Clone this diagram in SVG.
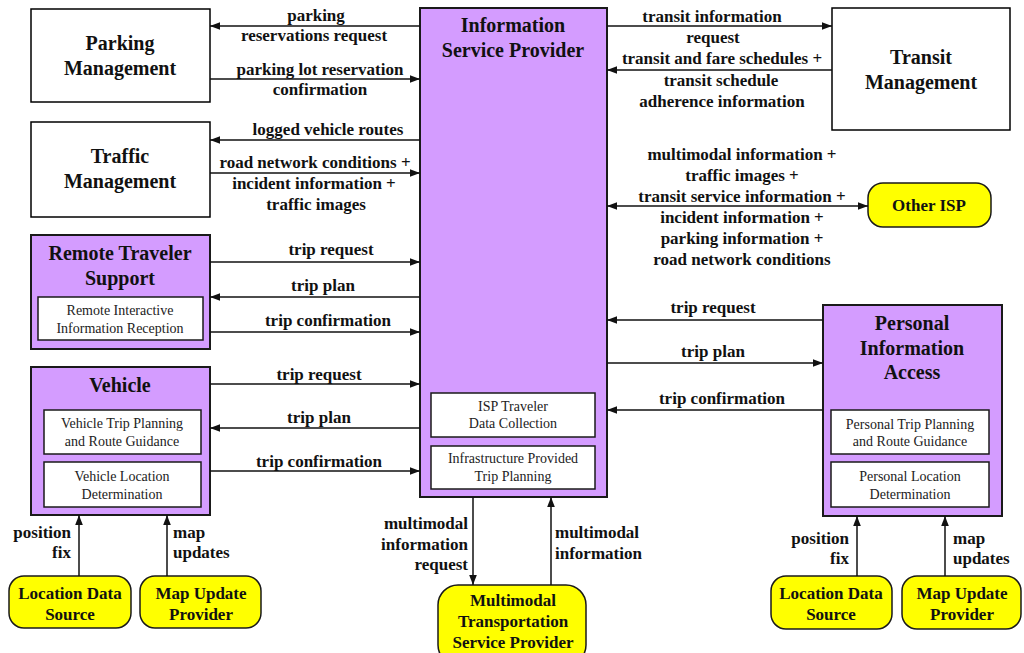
<svg xmlns="http://www.w3.org/2000/svg" width="1024" height="653" viewBox="0 0 1024 653">
  <defs>
    <style>
      .box { fill: #ffffff; stroke: #000000; stroke-width: 1.5; }
      .sys { fill: #D49CFF; stroke: #1a1a1a; stroke-width: 2; }
      .inner { fill: #ffffff; stroke: #1a1a1a; stroke-width: 1.5; }
      .term { fill: #FFFF00; stroke: #1a1a1a; stroke-width: 1.5; }
      .title { font-family: "Liberation Serif", "Times New Roman", serif; font-weight: bold; font-size: 20px; fill: #111; text-anchor: middle; }
      .tname { font-family: "Liberation Serif", "Times New Roman", serif; font-weight: bold; font-size: 17px; fill: #111; text-anchor: middle; }
      .sub { font-family: "Liberation Serif", "Times New Roman", serif; font-size: 14px; fill: #222; text-anchor: middle; }
      .lbl { font-family: "Liberation Serif", "Times New Roman", serif; font-weight: bold; font-size: 17px; fill: #111; text-anchor: middle; }
      .lbl-r { text-anchor: end; }
      .lbl-l { text-anchor: start; }
      .flow { fill: none; stroke: #111; stroke-width: 1.5; }
    </style>
    <marker id="arrow" markerUnits="userSpaceOnUse" markerWidth="10" markerHeight="10" viewBox="0 0 10 10" refX="10" refY="5" orient="auto-start-reverse">
      <path d="M0,1.2 L10,5 L0,8.8 Z" fill="#111"/>
    </marker>
  </defs>

  <!-- Parking Management -->
  <g id="parking-management">
    <rect class="box" x="31" y="9" width="179" height="93"/>
    <text class="title" x="120" y="50">Parking</text>
    <text class="title" x="120" y="75">Management</text>
  </g>

  <!-- Traffic Management -->
  <g id="traffic-management">
    <rect class="box" x="31" y="122" width="179" height="95"/>
    <text class="title" x="120" y="163">Traffic</text>
    <text class="title" x="120" y="188">Management</text>
  </g>

  <!-- Remote Traveler Support -->
  <g id="remote-traveler-support">
    <rect class="sys" x="31" y="235" width="179" height="114"/>
    <text class="title" x="120" y="260">Remote Traveler</text>
    <text class="title" x="120" y="285">Support</text>
    <rect class="inner" x="38" y="297" width="165" height="43"/>
    <text class="sub" x="120" y="315">Remote Interactive</text>
    <text class="sub" x="120" y="333">Information Reception</text>
  </g>

  <!-- Vehicle -->
  <g id="vehicle">
    <rect class="sys" x="31" y="367" width="179" height="148"/>
    <text class="title" x="120" y="392">Vehicle</text>
    <rect class="inner" x="44" y="410" width="157" height="44"/>
    <text class="sub" x="122" y="428">Vehicle Trip Planning</text>
    <text class="sub" x="122" y="446">and Route Guidance</text>
    <rect class="inner" x="44" y="462" width="157" height="45"/>
    <text class="sub" x="122" y="481">Vehicle Location</text>
    <text class="sub" x="122" y="499">Determination</text>
  </g>

  <!-- Information Service Provider -->
  <g id="information-service-provider">
    <rect class="sys" x="420" y="8" width="187" height="489"/>
    <text class="title" x="513" y="32">Information</text>
    <text class="title" x="513" y="57">Service Provider</text>
    <rect class="inner" x="431" y="393" width="164" height="44"/>
    <text class="sub" x="513" y="411">ISP Traveler</text>
    <text class="sub" x="513" y="428">Data Collection</text>
    <rect class="inner" x="431" y="446" width="164" height="43"/>
    <text class="sub" x="513" y="463">Infrastructure Provided</text>
    <text class="sub" x="513" y="481">Trip Planning</text>
  </g>

  <!-- Transit Management -->
  <g id="transit-management">
    <rect class="box" x="832" y="8" width="178" height="122"/>
    <text class="title" x="921" y="64">Transit</text>
    <text class="title" x="921" y="89">Management</text>
  </g>

  <!-- Other ISP -->
  <g id="other-isp">
    <rect class="term" x="868" y="183" width="123" height="44" rx="15" ry="15"/>
    <text class="tname" x="929" y="211">Other ISP</text>
  </g>

  <!-- Personal Information Access -->
  <g id="personal-information-access">
    <rect class="sys" x="823" y="305" width="179" height="211"/>
    <text class="title" x="912" y="330">Personal</text>
    <text class="title" x="912" y="355">Information</text>
    <text class="title" x="912" y="379">Access</text>
    <rect class="inner" x="831" y="410" width="158" height="44"/>
    <text class="sub" x="910" y="429">Personal Trip Planning</text>
    <text class="sub" x="910" y="446">and Route Guidance</text>
    <rect class="inner" x="831" y="462" width="158" height="45"/>
    <text class="sub" x="910" y="481">Personal Location</text>
    <text class="sub" x="910" y="499">Determination</text>
  </g>

  <!-- Terminators along the bottom -->
  <g id="location-data-source-vehicle">
    <rect class="term" x="9" y="576" width="122" height="52" rx="15" ry="15"/>
    <text class="tname" x="70" y="599">Location Data</text>
    <text class="tname" x="70" y="620">Source</text>
  </g>
  <g id="map-update-provider-vehicle">
    <rect class="term" x="140" y="576" width="121" height="52" rx="15" ry="15"/>
    <text class="tname" x="201" y="599">Map Update</text>
    <text class="tname" x="201" y="620">Provider</text>
  </g>
  <g id="multimodal-transportation-service-provider">
    <rect class="term" x="438" y="585" width="148" height="80" rx="20" ry="20"/>
    <text class="tname" x="513" y="606">Multimodal</text>
    <text class="tname" x="513" y="627">Transportation</text>
    <text class="tname" x="513" y="648">Service Provider</text>
  </g>
  <g id="location-data-source-personal">
    <rect class="term" x="771" y="576" width="121" height="53" rx="15" ry="15"/>
    <text class="tname" x="831" y="599">Location Data</text>
    <text class="tname" x="831" y="620">Source</text>
  </g>
  <g id="map-update-provider-personal">
    <rect class="term" x="902" y="576" width="119" height="53" rx="15" ry="15"/>
    <text class="tname" x="962" y="599">Map Update</text>
    <text class="tname" x="962" y="620">Provider</text>
  </g>

  <!-- Flows -->
  <g id="connectors">
    <!-- ISP <-> Parking Management -->
    <line class="flow" x1="420" y1="26" x2="210" y2="26" marker-end="url(#arrow)"/>
    <text class="lbl" x="316" y="21">parking</text>
    <text class="lbl" x="314" y="41">reservations request</text>
    <line class="flow" x1="210" y1="79" x2="420" y2="79" marker-end="url(#arrow)"/>
    <text class="lbl" x="320" y="75">parking lot reservation</text>
    <text class="lbl" x="320" y="95">confirmation</text>

    <!-- ISP <-> Traffic Management -->
    <line class="flow" x1="420" y1="140" x2="210" y2="140" marker-end="url(#arrow)"/>
    <text class="lbl" x="328" y="135">logged vehicle routes</text>
    <line class="flow" x1="210" y1="173" x2="420" y2="173" marker-end="url(#arrow)"/>
    <text class="lbl" x="315" y="168">road network conditions +</text>
    <text class="lbl" x="314" y="189">incident information +</text>
    <text class="lbl" x="316" y="210">traffic images</text>

    <!-- ISP <-> Remote Traveler Support -->
    <line class="flow" x1="210" y1="262" x2="420" y2="262" marker-end="url(#arrow)"/>
    <text class="lbl" x="331" y="255">trip request</text>
    <line class="flow" x1="420" y1="297" x2="210" y2="297" marker-end="url(#arrow)"/>
    <text class="lbl" x="323" y="291">trip plan</text>
    <line class="flow" x1="210" y1="332" x2="420" y2="332" marker-end="url(#arrow)"/>
    <text class="lbl" x="328" y="326">trip confirmation</text>

    <!-- ISP <-> Vehicle -->
    <line class="flow" x1="210" y1="384" x2="420" y2="384" marker-end="url(#arrow)"/>
    <text class="lbl" x="319" y="380">trip request</text>
    <line class="flow" x1="420" y1="428" x2="210" y2="428" marker-end="url(#arrow)"/>
    <text class="lbl" x="319" y="423">trip plan</text>
    <line class="flow" x1="210" y1="471" x2="420" y2="471" marker-end="url(#arrow)"/>
    <text class="lbl" x="319" y="467">trip confirmation</text>

    <!-- ISP <-> Transit Management -->
    <line class="flow" x1="607" y1="26" x2="832" y2="26" marker-end="url(#arrow)"/>
    <text class="lbl" x="712" y="22">transit information</text>
    <text class="lbl" x="713" y="43">request</text>
    <line class="flow" x1="832" y1="70" x2="607" y2="70" marker-end="url(#arrow)"/>
    <text class="lbl" x="722" y="64">transit and fare schedules +</text>
    <text class="lbl" x="721" y="86">transit schedule</text>
    <text class="lbl" x="722" y="107">adherence information</text>

    <!-- ISP <-> Other ISP -->
    <line class="flow" x1="607" y1="206" x2="868" y2="206" marker-start="url(#arrow)" marker-end="url(#arrow)"/>
    <text class="lbl" x="742" y="160">multimodal information +</text>
    <text class="lbl" x="742" y="181">traffic images +</text>
    <text class="lbl" x="742" y="202">transit service information +</text>
    <text class="lbl" x="742" y="223">incident information +</text>
    <text class="lbl" x="742" y="244">parking information +</text>
    <text class="lbl" x="742" y="265">road network conditions</text>

    <!-- ISP <-> Personal Information Access -->
    <line class="flow" x1="823" y1="320" x2="607" y2="320" marker-end="url(#arrow)"/>
    <text class="lbl" x="713" y="313">trip request</text>
    <line class="flow" x1="607" y1="363" x2="823" y2="363" marker-end="url(#arrow)"/>
    <text class="lbl" x="713" y="357">trip plan</text>
    <line class="flow" x1="823" y1="410" x2="607" y2="410" marker-end="url(#arrow)"/>
    <text class="lbl" x="722" y="404">trip confirmation</text>

    <!-- ISP <-> Multimodal Transportation Service Provider -->
    <line class="flow" x1="473" y1="497" x2="473" y2="585" marker-end="url(#arrow)"/>
    <text class="lbl lbl-r" x="468" y="529">multimodal</text>
    <text class="lbl lbl-r" x="468" y="550">information</text>
    <text class="lbl lbl-r" x="468" y="570">request</text>
    <line class="flow" x1="551" y1="585" x2="551" y2="497" marker-end="url(#arrow)"/>
    <text class="lbl lbl-l" x="555" y="538">multimodal</text>
    <text class="lbl lbl-l" x="555" y="559">information</text>

    <!-- Vehicle inputs -->
    <line class="flow" x1="79" y1="576" x2="79" y2="515" marker-end="url(#arrow)"/>
    <text class="lbl lbl-r" x="71" y="538">position</text>
    <text class="lbl lbl-r" x="71" y="558">fix</text>
    <line class="flow" x1="167" y1="576" x2="167" y2="515" marker-end="url(#arrow)"/>
    <text class="lbl lbl-l" x="173" y="538">map</text>
    <text class="lbl lbl-l" x="173" y="558">updates</text>

    <!-- Personal Information Access inputs -->
    <line class="flow" x1="857" y1="576" x2="857" y2="516" marker-end="url(#arrow)"/>
    <text class="lbl lbl-r" x="849" y="544">position</text>
    <text class="lbl lbl-r" x="849" y="564">fix</text>
    <line class="flow" x1="945" y1="576" x2="945" y2="516" marker-end="url(#arrow)"/>
    <text class="lbl lbl-l" x="953" y="544">map</text>
    <text class="lbl lbl-l" x="953" y="564">updates</text>
  </g>
</svg>
